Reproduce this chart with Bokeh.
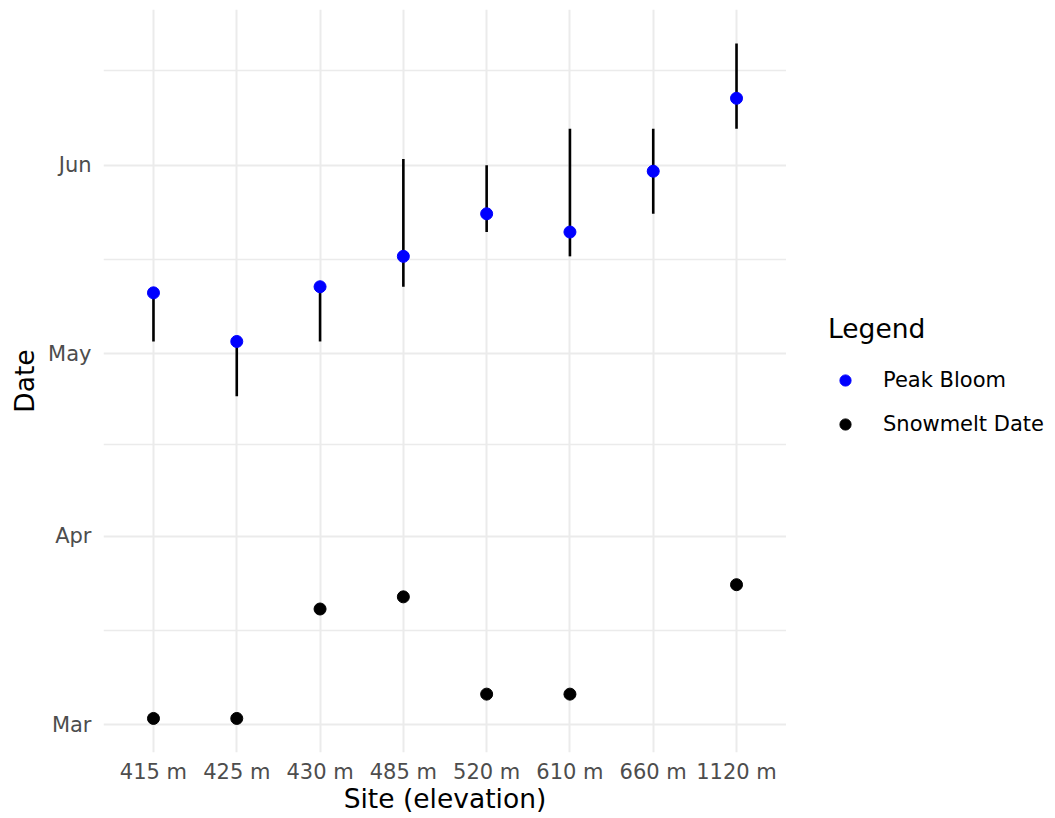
import pandas as pd
from bokeh.plotting import figure
from bokeh.layouts import row
from bokeh.models import (ColumnDataSource, Range1d, FixedTicker, Legend, LegendItem)
from bokeh.embed import file_html
from bokeh.resources import INLINE

# ---- data ----
sites = ["415 m", "425 m", "430 m", "485 m", "520 m", "610 m", "660 m", "1120 m"]
peak_bloom = ["05-11", "05-03", "05-12", "05-17", "05-24", "05-21", "05-31", "06-12"]
bloom_low = ["05-03", "04-24", "05-03", "05-12", "05-21", "05-17", "05-24", "06-07"]
bloom_high = ["05-11", "05-03", "05-12", "06-02", "06-01", "06-07", "06-07", "06-21"]
snowmelt = ["03-02", "03-02", "03-20", "03-22", "03-06", "03-06", None, "03-24"]
month_ticks = ["03-01", "04-01", "05-01", "06-01"]
month_labels = ["Mar", "Apr", "May", "Jun"]


def doy(s):
    return float("nan") if s is None else float(pd.Timestamp("2023-" + s).dayofyear)


xs = list(range(1, len(sites) + 1))
bloom_src = ColumnDataSource(dict(x=xs, y=[doy(s) for s in peak_bloom],
                                  lo=[doy(s) for s in bloom_low],
                                  hi=[doy(s) for s in bloom_high]))
snow_x = [x for x, s in zip(xs, snowmelt) if s is not None]
snow_y = [doy(s) for s in snowmelt if s is not None]
snow_src = ColumnDataSource(dict(x=snow_x, y=snow_y))

major = [doy(s) for s in month_ticks]
d0 = major[1] - major[0]
ext = major + [major[-1] + d0]
minor = [(a + b) / 2 for a, b in zip(ext[:-1], ext[1:])]

p = figure(width=786, height=818, output_backend="svg", toolbar_location=None,
           x_range=Range1d(0.4, len(sites) + 0.6),
           y_range=Range1d(55.4, 177.6),
           min_border_left=103, min_border_right=0,
           min_border_top=9, min_border_bottom=66)
p.outline_line_color = None
p.background_fill_color = "white"
p.border_fill_color = "white"

grid_col = "#EBEBEB"
p.xgrid.grid_line_color = grid_col
p.xgrid.grid_line_width = 2
p.ygrid.grid_line_color = grid_col
p.ygrid.grid_line_width = 2
p.ygrid.minor_grid_line_color = grid_col
p.ygrid.minor_grid_line_width = 1.5

p.xaxis.ticker = FixedTicker(ticks=xs)
p.xaxis.major_label_overrides = {x: s for x, s in zip(xs, sites)}
p.yaxis.ticker = FixedTicker(ticks=major, minor_ticks=minor)
p.yaxis.major_label_overrides = {m: l for m, l in zip(major, month_labels)}

for ax in (p.xaxis, p.yaxis):
    ax.axis_line_color = None
    ax.major_tick_line_color = None
    ax.minor_tick_line_color = None
    ax.major_tick_out = 0
    ax.major_tick_in = 0
    ax.minor_tick_out = 0
    ax.minor_tick_in = 0
    ax.major_label_text_font = "DejaVu Sans"
    ax.major_label_text_font_size = "21px"
    ax.major_label_text_color = "#4D4D4D"
    ax.axis_label_text_font = "DejaVu Sans"
    ax.axis_label_text_font_size = "26.5px"
    ax.axis_label_text_font_style = "normal"
    ax.axis_label_text_color = "black"

p.xaxis.axis_label = "Site (elevation)"
p.yaxis.axis_label = "Date"
p.xaxis.major_label_standoff = 7
p.yaxis.major_label_standoff = 12
p.xaxis.axis_label_standoff = -4
p.yaxis.axis_label_standoff = 5

p.segment(x0="x", y0="lo", x1="x", y1="hi", source=bloom_src,
          line_color="black", line_width=2.6)
p.scatter(x="x", y="y", source=bloom_src, size=12,
          fill_color="#0000FF", line_color="#0000FF")
p.scatter(x="x", y="y", source=snow_src, size=12,
          fill_color="black", line_color="black")

# ---- legend panel (separate figure on the right) ----
# renderers reuse the same data; their points fall outside this panel's ranges,
# so only their legend glyphs are visible
lp = figure(width=269, height=818, output_backend="svg", toolbar_location=None,
            x_axis_type=None, y_axis_type=None,
            x_range=Range1d(-2, -1), y_range=Range1d(-2, -1),
            min_border_left=0, min_border_right=0,
            min_border_top=0, min_border_bottom=0)
lp.outline_line_color = None
lp.grid.visible = False
lp.background_fill_color = "white"
lp.border_fill_color = "white"
lr_bloom = lp.scatter(x="x", y="y", source=bloom_src, size=12,
                      fill_color="#0000FF", line_color="#0000FF")
lr_snow = lp.scatter(x="x", y="y", source=snow_src, size=12,
                     fill_color="black", line_color="black")

legend = Legend(items=[LegendItem(label="Peak Bloom", renderers=[lr_bloom]),
                       LegendItem(label="Snowmelt Date", renderers=[lr_snow])],
                location=(42, 314))
legend.title = "Legend"
legend.title_text_font = "DejaVu Sans"
legend.title_text_font_size = "26.5px"
legend.title_text_font_style = "normal"
legend.title_text_color = "black"
legend.title_standoff = 22
legend.label_text_font = "DejaVu Sans"
legend.label_text_font_size = "21px"
legend.label_text_color = "black"
legend.glyph_width = 34
legend.glyph_height = 28
legend.label_standoff = 21
legend.spacing = 16
legend.padding = 0
legend.margin = 0
legend.border_line_color = None
legend.background_fill_alpha = 0
lp.add_layout(legend, "center")

layout = row(p, lp, spacing=0)
open("out.html", "w").write(file_html(layout, INLINE))
